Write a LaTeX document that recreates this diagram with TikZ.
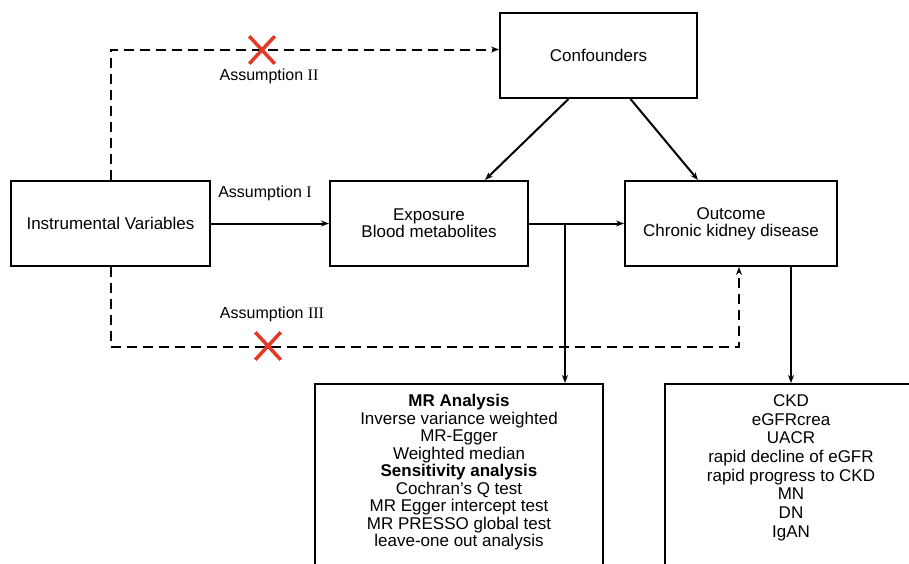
\documentclass[tikz,border=0pt]{standalone}
\usepackage{fontspec}
\setmainfont{Liberation Sans}
\newfontfamily\romanfont{Liberation Serif}
\usepackage{tikz}
\usetikzlibrary{arrows.meta, positioning, shapes.misc}
\definecolor{crossred}{RGB}{228,57,38}

\begin{document}
\begin{tikzpicture}[
    x=1pt, y=-1pt,
    font=\fontsize{17}{20}\selectfont,
    >={Stealth[length=8pt, width=6pt]},
    box/.style={rectangle, draw, line width=2pt, minimum width=#1, minimum height=85pt, align=center, inner sep=2pt},
    link/.style={->, line width=2pt},
    dashlink/.style={->, line width=2pt, dash pattern=on 10pt off 6pt},
    nope/.style={cross out, draw=crossred, line width=3.5pt, minimum width=22pt, minimum height=24pt, inner sep=0pt},
    tag/.style={font=\fontsize{16}{19}\selectfont}
]
\useasboundingbox (0,0) rectangle (909,563);
\clip (0,0) rectangle (909,563);

\node[box=199pt] (iv) at (110.5,223.5) {Instrumental Variables};
\node[box=198pt, right=118pt of iv] (expo) {Exposure\\[-3pt]Blood metabolites};
\node[box=212pt, right=95pt of expo] (out) {Outcome\\[-3pt]Chronic kidney disease};
\node[box=197pt] (conf) at (598.5,55.5) {Confounders};

\node[box=288pt, minimum height=220pt, anchor=north] (mr) at (459,383) {};
\node[below=8pt of mr.north, align=center, font=\fontsize{17}{17.5}\selectfont] (mrlist) {%
    \textbf{MR Analysis}\\Inverse variance weighted\\MR-Egger\\Weighted median\\
    \textbf{Sensitivity analysis}\\Cochran's Q test\\MR Egger intercept test\\
    MR PRESSO global test\\leave-one out analysis};
\node[box=252pt, minimum height=220pt, anchor=north] (res) at (791,383) {};
\node[below=8pt of res.north, align=center, font=\fontsize{17}{18.7}\selectfont] (reslist) {%
    CKD\\eGFRcrea\\UACR\\rapid decline of eGFR\\rapid progress to CKD\\MN\\DN\\IgAN};

\draw[link] (iv) -- (expo);
\draw[link] (expo) -- (out);
\draw[link] ([xshift=-30pt]conf.south) -- ([xshift=56pt]expo.north);
\draw[link] ([xshift=32pt]conf.south) -- ([xshift=-33pt]out.north);
\draw[dashlink] (iv.north) |- ([yshift=6pt]conf.west);
\draw[dashlink] (iv.south) -- ++(0,80) -| ([xshift=8pt]out.south);
\coordinate (split) at (565,223.5);
\draw[link] (split) -- (split |- mr.north);
\draw[link] (out.south -| res.north) -- (res.north);

\node[nope] (cut2) at (262,50) {};
\node[nope] (cut3) at (268,346) {};
\node[tag] (lab1) at (265,193) {Assumption {\romanfont I}};
\node[tag] (lab2) at (269,76) {Assumption {\romanfont II}};
\node[tag] (lab3) at (272,314) {Assumption {\romanfont III}};
\end{tikzpicture}
\end{document}
